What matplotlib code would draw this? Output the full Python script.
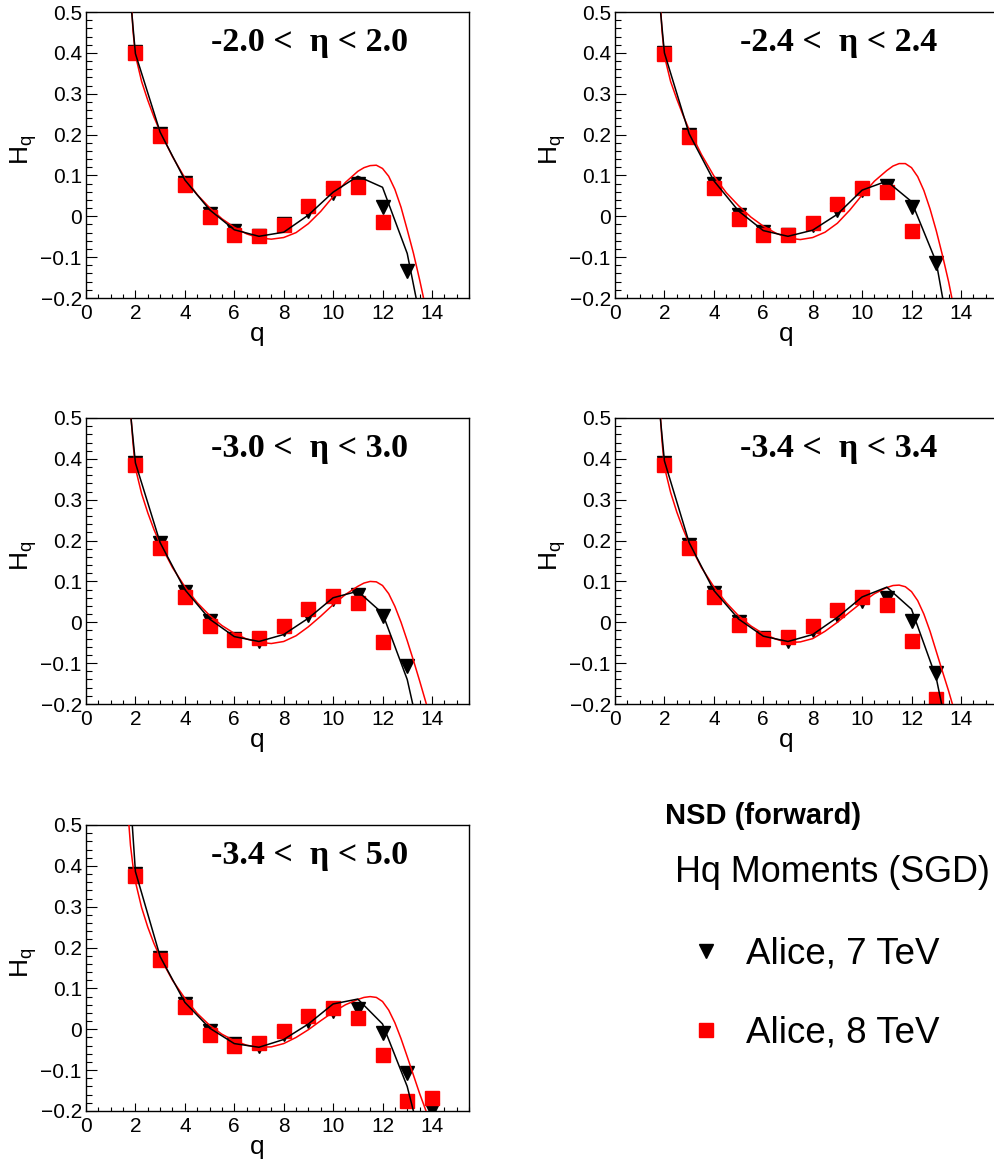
import matplotlib
matplotlib.use("Agg")
import matplotlib.pyplot as plt
from matplotlib.ticker import FixedLocator, MultipleLocator, FixedFormatter
from matplotlib.lines import Line2D

plt.rcParams['font.family'] = ['Liberation Sans', 'DejaVu Sans']
plt.rcParams['mathtext.fontset'] = 'custom'
plt.rcParams['mathtext.rm'] = 'Liberation Sans'
plt.rcParams['mathtext.it'] = 'Liberation Sans:italic'

# ---------------- data ----------------
eta_labels = ["-2.0 <  η < 2.0", "-2.4 <  η < 2.4", "-3.0 <  η < 3.0",
              "-3.4 <  η < 3.4", "-3.4 <  η < 5.0"]

x_ticks = [0, 2, 4, 6, 8, 10, 12, 14]
x_tick_labels = ["0", "2", "4", "6", "8", "10", "12", "14"]
y_ticks = [-0.2, -0.1, 0.0, 0.1, 0.2, 0.3, 0.4, 0.5]
y_tick_labels = ["\u22120.2", "\u22120.1", "0", "0.1", "0.2", "0.3", "0.4", "0.5"]

# Alice 7 TeV data (black down triangles)
q7_a = [2, 3, 4, 5, 6, 7, 8, 9, 10, 11, 12, 13]
q7_b = [2, 3, 4, 5, 6, 7, 8, 9, 10, 11, 12, 13, 14]
h7_eta20 = [0.402, 0.201, 0.081, 0.005, -0.037, -0.048, -0.020, 0.012, 0.058, 0.080, 0.023, -0.133]
h7_eta24 = [0.400, 0.200, 0.079, 0.004, -0.039, -0.047, -0.021, 0.016, 0.064, 0.074, 0.023, -0.114]
h7_eta30 = [0.390, 0.193, 0.075, 0.002, -0.040, -0.045, -0.017, 0.018, 0.058, 0.068, 0.015, -0.107]
h7_eta34 = [0.390, 0.189, 0.071, 0.000, -0.039, -0.045, -0.020, 0.018, 0.052, 0.060, 0.004, -0.123]
h7_eta50 = [0.380, 0.175, 0.061, -0.004, -0.037, -0.040, -0.011, 0.020, 0.045, 0.049, -0.008, -0.108, -0.198]

# Alice 8 TeV data (red squares)
q8_a = [2, 3, 4, 5, 6, 7, 8, 9, 10, 11, 12]
q8_b = [2, 3, 4, 5, 6, 7, 8, 9, 10, 11, 12, 13]
q8_c = [2, 3, 4, 5, 6, 7, 8, 9, 10, 11, 12, 13, 14]
h8_eta20 = [0.400, 0.196, 0.076, -0.002, -0.045, -0.048, -0.021, 0.026, 0.069, 0.071, -0.015]
h8_eta24 = [0.398, 0.194, 0.070, -0.006, -0.045, -0.046, -0.016, 0.031, 0.069, 0.060, -0.036]
h8_eta30 = [0.386, 0.183, 0.063, -0.008, -0.043, -0.039, -0.010, 0.033, 0.065, 0.046, -0.048]
h8_eta34 = [0.384, 0.182, 0.062, -0.007, -0.041, -0.037, -0.010, 0.031, 0.061, 0.043, -0.047, -0.188]
h8_eta50 = [0.374, 0.170, 0.054, -0.014, -0.041, -0.033, -0.003, 0.033, 0.053, 0.027, -0.064, -0.175, -0.167]

# SGD model for 7 TeV (black polyline at integer q)
q_fit7 = [1, 2, 3, 4, 5, 6, 7, 8, 9, 10, 11, 12, 13, 14]
fit7_eta20 = [1.07, 0.398, 0.206, 0.089, 0.016, -0.033, -0.049, -0.039, 0.003, 0.059, 0.098, 0.071, -0.091, -0.394]
fit7_eta24 = [1.04, 0.400, 0.202, 0.087, 0.013, -0.035, -0.049, -0.034, 0.005, 0.064, 0.086, 0.036, -0.112, -0.450]
fit7_eta30 = [1.00, 0.390, 0.195, 0.080, 0.008, -0.035, -0.047, -0.030, 0.010, 0.060, 0.076, 0.022, -0.140, -0.410]
fit7_eta34 = [1.03, 0.395, 0.195, 0.078, 0.008, -0.034, -0.047, -0.030, 0.012, 0.062, 0.086, 0.032, -0.136, -0.430]
fit7_eta50 = [1.28, 0.386, 0.178, 0.066, 0.003, -0.035, -0.044, -0.025, 0.013, 0.062, 0.074, 0.013, -0.140, -0.380]

# SGD model for 8 TeV (red curve)
q_fit8 = [1.7, 1.8, 1.9, 2.0, 2.25, 2.5, 2.75, 3.0, 3.5, 4.0, 4.5, 5.0, 5.5, 6.0, 6.5, 7.0,
          7.5, 8.0, 8.5, 9.0, 9.5, 10.0, 10.5, 11.0, 11.25, 11.5, 11.75, 12.0, 12.25, 12.5,
          12.75, 13.0, 13.25, 13.5, 13.75, 14.0]
fit8_eta20 = [0.68, 0.565, 0.455, 0.394, 0.330, 0.284, 0.243, 0.207, 0.146, 0.094, 0.053, 0.021,
              -0.006, -0.027, -0.043, -0.053, -0.056, -0.052, -0.040, -0.018, 0.012, 0.048, 0.083,
              0.110, 0.119, 0.124, 0.125, 0.117, 0.098, 0.066, 0.022, -0.033, -0.090, -0.155,
              -0.225, -0.300]
fit8_eta24 = [0.69, 0.56, 0.455, 0.392, 0.330, 0.287, 0.248, 0.212, 0.151, 0.099, 0.058, 0.026,
              -0.002, -0.024, -0.041, -0.053, -0.057, -0.052, -0.039, -0.017, 0.015, 0.052, 0.086,
              0.112, 0.123, 0.129, 0.129, 0.119, 0.097, 0.063, 0.018, -0.035, -0.095, -0.160,
              -0.235, -0.320]
fit8_eta30 = [0.64, 0.52, 0.44, 0.377, 0.315, 0.268, 0.227, 0.192, 0.134, 0.087, 0.048, 0.017,
              -0.008, -0.027, -0.041, -0.049, -0.052, -0.047, -0.033, -0.011, 0.015, 0.043, 0.068,
              0.088, 0.096, 0.100, 0.099, 0.090, 0.070, 0.039, 0.000, -0.045, -0.093, -0.143,
              -0.195, -0.250]
fit8_eta34 = [0.67, 0.54, 0.445, 0.380, 0.318, 0.270, 0.229, 0.193, 0.134, 0.087, 0.048, 0.016,
              -0.009, -0.028, -0.041, -0.050, -0.048, -0.040, -0.022, 0.000, 0.025, 0.049, 0.070,
              0.085, 0.090, 0.091, 0.087, 0.075, 0.053, 0.020, -0.022, -0.071, -0.120, -0.168,
              -0.220, -0.280]
fit8_eta50 = [0.53, 0.45, 0.40, 0.361, 0.298, 0.250, 0.210, 0.176, 0.120, 0.076, 0.039, 0.010,
              -0.012, -0.028, -0.039, -0.044, -0.043, -0.035, -0.020, -0.001, 0.021, 0.042, 0.060,
              0.073, 0.078, 0.080, 0.078, 0.068, 0.047, 0.016, -0.023, -0.067, -0.112, -0.157,
              -0.198, -0.245]

panels = [
    (eta_labels[0], q7_a, h7_eta20, q8_a, h8_eta20, fit7_eta20, fit8_eta20),
    (eta_labels[1], q7_a, h7_eta24, q8_a, h8_eta24, fit7_eta24, fit8_eta24),
    (eta_labels[2], q7_a, h7_eta30, q8_a, h8_eta30, fit7_eta30, fit8_eta30),
    (eta_labels[3], q7_a, h7_eta34, q8_b, h8_eta34, fit7_eta34, fit8_eta34),
    (eta_labels[4], q7_b, h7_eta50, q8_c, h8_eta50, fit7_eta50, fit8_eta50),
]

# ---------------- layout ----------------
W, H = 995, 1165
fig = plt.figure(figsize=(W / 100, H / 100), dpi=100)
AXW, AXH = 383, 286
positions = [(86, 12), (615, 12), (86, 418), (615, 418), (86, 825)]

for (label, q7, h7, q8, h8, f7, f8), (px, py) in zip(panels, positions):
    ax = fig.add_axes([px / W, 1 - (py + AXH) / H, AXW / W, AXH / H])
    ax.plot(q7, h7, ls='none', marker='v', ms=9.5, color='black', zorder=2)
    ax.plot(q8, h8, ls='none', marker='s', ms=10.5, color='#ff0000', mec='#ff0000', zorder=2.5)
    ax.plot(q_fit8, f8, color='#ff0000', lw=1.1, zorder=3)
    ax.plot(q_fit7, f7, color='black', lw=1.1, zorder=4)

    ax.set_xlim(0, 15.5)
    ax.set_ylim(-0.2, 0.5)
    ax.xaxis.set_major_locator(FixedLocator(x_ticks))
    ax.xaxis.set_major_formatter(FixedFormatter(x_tick_labels))
    ax.xaxis.set_minor_locator(MultipleLocator(0.5))
    ax.yaxis.set_major_locator(FixedLocator(y_ticks))
    ax.yaxis.set_major_formatter(FixedFormatter(y_tick_labels))
    ax.yaxis.set_minor_locator(MultipleLocator(0.02))
    ax.tick_params(which='both', direction='in', top=False, right=False, width=0.8)
    ax.tick_params(axis='y', which='major', length=8, pad=3, labelsize=15)
    ax.tick_params(axis='y', which='minor', length=4)
    ax.tick_params(axis='x', which='major', length=5.5, pad=4, labelsize=15)
    ax.tick_params(axis='x', which='minor', length=3)
    for sp in ax.spines.values():
        sp.set_linewidth(1.0)

    ax.set_xlabel('q', fontsize=19)
    ax.xaxis.set_label_coords(0.446, -0.083)
    ax.set_ylabel(r'H$_{\mathrm{q}}$', fontsize=19)
    ax.yaxis.set_label_coords(-0.123, 0.517)

    ax.text(0.326, 0.865, label, transform=ax.transAxes, ha='left', va='baseline',
            fontsize=24.5, fontweight='bold', family=['Liberation Serif', 'DejaVu Serif'])

fig.text(665 / W, 1 - 824 / H, 'NSD (forward)', ha='left', va='baseline',
         fontsize=21, fontweight='bold')
fig.text(675 / W, 1 - 882 / H, 'Hq Moments (SGD)', ha='left', va='baseline', fontsize=25.8)

handles = [Line2D([], [], ls='none', marker='v', ms=9.5, color='black'),
           Line2D([], [], ls='none', marker='s', ms=10, color='#ff0000', mec='#ff0000')]
fig.legend(handles, ['Alice, 7 TeV', 'Alice, 8 TeV'], loc='upper left',
           bbox_to_anchor=(688.0 / W, 1 - 936.5 / H), frameon=False, fontsize=26.5,
           borderpad=0, borderaxespad=0, handlelength=1.0, handletextpad=0.58,
           labelspacing=1.2)

fig.savefig('out.png', dpi=100)
